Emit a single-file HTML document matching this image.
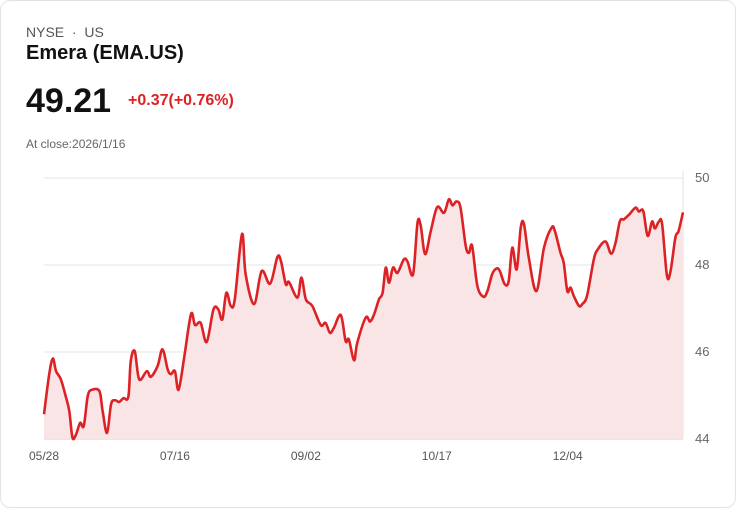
<!DOCTYPE html>
<html><head><meta charset="utf-8">
<style>
body{margin:0;background:#fff;font-family:"Liberation Sans",sans-serif;}
.card{position:absolute;left:0;top:0;width:734px;height:506px;border:1px solid #e3e3e3;border-radius:10px;}
.t{position:absolute;white-space:nowrap;}
</style></head><body>
<div class="card">
<div class="t" style="left:25px;top:23px;font-size:14px;color:#555;">NYSE &nbsp;·&nbsp; US</div>
<div class="t" style="left:25px;top:41px;font-size:20px;font-weight:bold;color:#111;">Emera (EMA.US)</div>
<div class="t" style="left:25px;top:81px;font-size:34px;font-weight:bold;color:#111;">49.21</div>
<div class="t" style="left:127px;top:91px;font-size:16px;font-weight:bold;color:#dd2226;">+0.37(+0.76%)</div>
<div class="t" style="left:25px;top:136px;font-size:12px;color:#666;">At close:2026/1/16</div>
<svg id="chart" width="736" height="508" style="position:absolute;left:-1px;top:-1px;"></svg>
</div>
<script>
const days=[0,1.3,2.2,3,4.2,5.5,6.3,7.1,8,9,9.9,10.9,11.9,13.8,14.6,15.7,16.7,17.7,18.7,19.8,21,21.6,22.6,23.7,25.6,26.6,28.3,29.5,30.8,31.6,32.6,33.5,34.9,36.6,37.6,39,40.5,42.2,43.4,44.4,45.4,46.5,47.5,49.3,50.2,52.3,54.2,56.3,58.1,59,60.2,61,63.1,64.1,65.2,66.8,68.9,70.1,71.2,72.2,73.9,75.1,75.9,77.2,78,80.1,81.2,82.2,83.4,84.3,85.1,85.9,86.9,88,89.6,90.5,91.9,93,93.8,94.9,96.3,97.9,99.6,100.8,101.7,102.7,103.7,105,105.8,106.6,107.9,109.4,110.4,111.6,112.7,113.5,114.7,115.7,116.6,117.7,118.7,119.5,120.7,122.6,124.5,126.4,127.2,128.6,129.4,130.3,131.1,131.9,133.2,134,135.2,136.9,137.9,139.8,141.2,142.3,143.4,144.4,145.8,147.3,148.1,149.2,150.3,151.4,152.1,153.1,153.9,155.1,156,157.2,158,159.1];
const prices=[44.57,45.49,45.85,45.56,45.37,44.95,44.64,44.03,44.11,44.37,44.30,44.99,45.13,45.10,44.64,44.14,44.80,44.89,44.85,44.94,44.97,45.79,46.02,45.37,45.56,45.43,45.68,46.06,45.60,45.49,45.56,45.13,45.87,46.87,46.62,46.67,46.23,46.98,46.98,46.75,47.36,47.06,47.21,48.71,47.79,47.10,47.86,47.57,48.18,48.09,47.56,47.61,47.25,47.71,47.21,47.06,46.62,46.67,46.44,46.56,46.85,46.25,46.29,45.81,46.21,46.79,46.70,46.87,47.21,47.36,47.94,47.59,47.94,47.82,48.13,48.08,47.79,48.97,48.90,48.25,48.78,49.33,49.20,49.51,49.37,49.46,49.32,48.44,48.28,48.44,47.52,47.27,47.40,47.79,47.92,47.86,47.56,47.63,48.40,47.90,48.86,48.94,48.17,47.40,48.40,48.86,48.78,48.28,48.05,47.40,47.48,47.29,47.06,47.10,47.29,48.13,48.36,48.54,48.26,48.51,49.01,49.05,49.17,49.32,49.23,49.24,48.67,49.00,48.84,49.00,48.94,47.76,47.86,48.63,48.78,49.21];
const yTicks=[44,46,48,50];
const xTickDays=[0,32.6,65.2,97.8,130.4];
const xTickLabels=["05/28","07/16","09/02","10/17","12/04"];
const NS="http://www.w3.org/2000/svg";
const svg=document.getElementById('chart');
const X0=44,X1=683,Y0=439,Y1=178,DMAX=159.1;
const xs=d=>X0+d/DMAX*(X1-X0);
const ys=v=>Y0-(v-44)/6*(Y0-Y1);
function mk(t,a){const e=document.createElementNS(NS,t);for(const k in a)e.setAttribute(k,a[k]);svg.appendChild(e);return e;}
yTicks.forEach(v=>{
 const l=mk('line',{x1:X0,x2:X1,y1:ys(v),y2:ys(v),stroke:v===44?'#ccc':'#e4e4e4','stroke-width':1});
 
 
 const t=mk('text',{x:X1+12,y:ys(v)+4,'font-size':13,fill:'#666','font-family':'Liberation Sans, sans-serif'});
 t.textContent=v;
 
 
});
const ax=mk('line',{x1:X1,x2:X1,y1:171,y2:Y0,stroke:'#e0e0e0','stroke-width':1});


xTickDays.forEach((d,i)=>{
 const t=mk('text',{x:xs(d),y:460,'font-size':12,fill:'#555','text-anchor':'middle','font-family':'Liberation Sans, sans-serif'});
 t.textContent=xTickLabels[i];
 
 
});
const pts=days.map((d,i)=>[xs(d),ys(prices[i])]);
let p='M'+pts[0][0]+','+pts[0][1];
for(let i=0;i<pts.length-1;i++){
 const a=pts[Math.max(0,i-1)],b=pts[i],c=pts[i+1],e=pts[Math.min(pts.length-1,i+2)];
 const c1=[b[0]+(c[0]-a[0])/6,b[1]+(c[1]-a[1])/6],c2=[c[0]-(e[0]-b[0])/6,c[1]-(e[1]-b[1])/6];
 p+=` C${c1[0]},${c1[1]} ${c2[0]},${c2[1]} ${c[0]},${c[1]}`;
}
const area=mk('path',{d:p+` L${pts[pts.length-1][0]},${Y0} L${pts[0][0]},${Y0} Z`,fill:'#f9e5e6'});


const line=mk('path',{d:p,fill:'none',stroke:'#dd2226','stroke-width':2.6,'stroke-linejoin':'round'});


</script>
</body></html>
